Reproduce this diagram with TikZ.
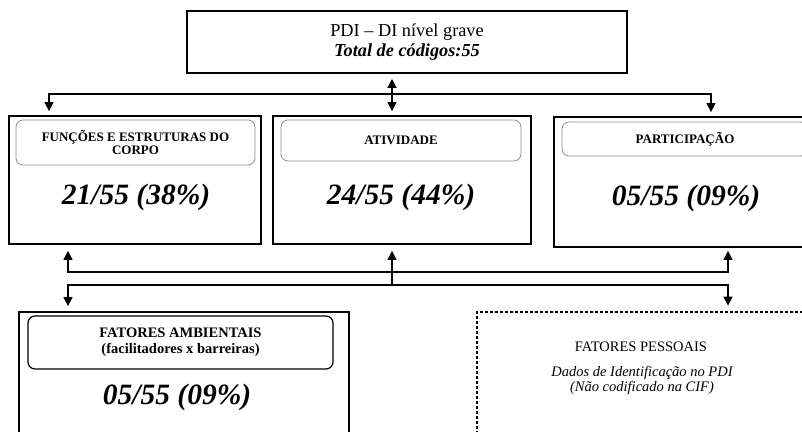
\documentclass[tikz,border=0pt]{standalone}
\usepackage{fontspec}
\setmainfont{Liberation Serif}
\usetikzlibrary{arrows.meta,positioning}
\definecolor{framegray}{HTML}{8C8C8C}

\tikzset{
  outerbox/.style={draw, line width=1.8pt, inner sep=0pt},
  labelbox/.style={draw=framegray, line width=0.8pt, rounded corners=7pt, inner sep=0pt,
    align=center, font=\fontsize{13}{13}\selectfont\bfseries},
  bignum/.style={font=\fontsize{29.5}{30}\selectfont\bfseries\itshape},
  link/.style={line width=1.4pt, {Triangle[width=9pt,length=9pt]}-{Triangle[width=9pt,length=9pt]}},
  uparrow/.style={line width=1.4pt, -{Triangle[width=9pt,length=9pt]}}
}

\begin{document}
\begin{tikzpicture}[x=1pt, y=-1pt]
  \useasboundingbox (0,0) rectangle (802,431);
  \clip (0,0) rectangle (802,431);

  % top
  \node[outerbox, minimum width=440pt, minimum height=62pt, align=center,
        font=\fontsize{18.3}{20}\selectfont] (pdi) at (407,42)
        {PDI -- DI nível grave\\\textbf{\textit{Total de códigos:55}}};

  % first row
  \node[outerbox, minimum width=252pt, minimum height=128pt] (funcoes) at (135,180) {};
  \node[labelbox, minimum width=239pt, minimum height=45pt] (funcoesLbl) at (135.5,142.5)
        {FUNÇÕES E ESTRUTURAS DO\\CORPO};
  \node[bignum] (funcoesNum) at (136,197) {21/55 (38\%)};

  \node[outerbox, minimum width=258pt, minimum height=128pt] (atividade) at (402,180) {};
  \node[labelbox, minimum width=240pt, minimum height=41pt] (atividadeLbl) at (401,140.5)
        {ATIVIDADE};
  \node[bignum] (atividadeNum) at (401,197) {24/55 (44\%)};

  \node[outerbox, minimum width=262pt, minimum height=130pt] (partic) at (685,182) {};
  \node[labelbox, minimum width=246pt, minimum height=34pt] (particLbl) at (685,139)
        {PARTICIPAÇÃO};
  \node[bignum] (particNum) at (686,198) {05/55 (09\%)};

  % second row
  \node[outerbox, minimum width=330pt, minimum height=133pt] (ambient) at (184,378.5) {};
  \node[labelbox, draw=black, line width=1.2pt, minimum width=305pt, minimum height=53pt,
        font=\fontsize{14.5}{16}\selectfont\bfseries] (ambientLbl) at (180.5,342.5)
        {FATORES AMBIENTAIS\\(facilitadores x barreiras)};
  \node[bignum] (ambientNum) at (177,397) {05/55 (09\%)};

  \node[draw, line width=2.8pt, dash pattern=on 2.8pt off 2.2pt, inner sep=0pt,
        minimum width=329pt, minimum height=133pt] (pessoais) at (641.5,378.5) {};
  \node[font=\fontsize{14.5}{15}\selectfont] (pessoaisTit) at (641,347) {FATORES PESSOAIS};
  \node[font=\fontsize{14.5}{15}\selectfont\itshape, align=center] (pessoaisTxt) at (642,380.5)
        {Dados de Identificação no PDI\\(Não codificado na CIF)};

  % connectors
  \coordinate (splitL) at (49,94);
  \coordinate (splitM) at (392,94);
  \coordinate (splitR) at (711,94);
  \draw[link, shorten <=4pt, shorten >=4pt] (splitL |- funcoes.north) -- (splitL)
        -- (splitR) -- (splitR |- partic.north);
  \draw[link, shorten <=5pt, shorten >=4pt] (pdi.south -| splitM) -- (atividade.north -| splitM);

  \coordinate (upL) at (68,272);
  \coordinate (upR) at (728,272);
  \coordinate (dnL) at (68,285);
  \coordinate (dnM) at (392,285);
  \coordinate (dnR) at (728,285);
  \draw[link, shorten <=6pt, shorten >=3pt] (upL |- funcoes.south) -- (upL)
        -- (upR) -- (upR |- partic.south);
  \draw[uparrow, shorten >=6pt] (dnM) -- (dnM |- atividade.south);
  \draw[link, shorten <=5pt, shorten >=5pt] (dnL |- ambient.north) -- (dnL)
        -- (dnR) -- (dnR |- pessoais.north);
\end{tikzpicture}
\end{document}
